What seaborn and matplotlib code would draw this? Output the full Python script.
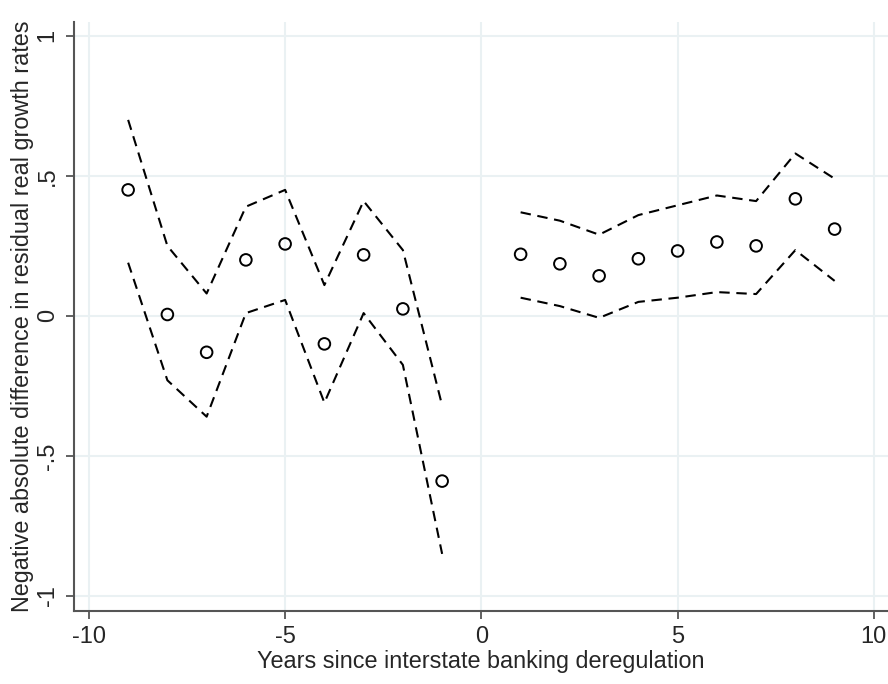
import numpy as np
import pandas as pd
import matplotlib.pyplot as plt
import seaborn as sns

# Values
years = [-9, -8, -7, -6, -5, -4, -3, -2, -1, 1, 2, 3, 4, 5, 6, 7, 8, 9]
estimate = [0.45, 0.005, -0.13, 0.20, 0.257, -0.10, 0.218, 0.025, -0.59,
            0.22, 0.186, 0.143, 0.204, 0.232, 0.264, 0.25, 0.418, 0.31]
upper = [0.70, 0.25, 0.08, 0.39, 0.45, 0.11, 0.41, 0.235, -0.32,
         0.37, 0.34, 0.29, 0.36, 0.395, 0.43, 0.41, 0.58, 0.49]
lower = [0.19, -0.23, -0.36, 0.01, 0.057, -0.31, 0.01, -0.175, -0.85,
         0.065, 0.035, -0.007, 0.05, 0.065, 0.085, 0.078, 0.235, 0.125]
xticks = [-10, -5, 0, 5, 10]
yticks = [-1, -0.5, 0, 0.5, 1]
ytick_labels = ['-1', '-.5', '0', '.5', '1']

df = pd.DataFrame({'year': years, 'est': estimate, 'hi': upper, 'lo': lower})
df['period'] = np.where(df['year'] < 0, 'pre', 'post')

sns.set_style('white')
plt.rcParams['font.family'] = ['Liberation Sans', 'DejaVu Sans']

fig = plt.figure(figsize=(8.88, 6.84), dpi=100)
ax = fig.add_axes([0.0833, 0.1067, 0.9167, 0.8613])

grid_c = '#eaf1f3'
for t in xticks:
    ax.axvline(t, color=grid_c, lw=1.5, zorder=0)
for t in yticks:
    ax.axhline(t, color=grid_c, lw=1.5, zorder=0)

# confidence bands, broken at year 0
for col in ['hi', 'lo']:
    sns.lineplot(data=df, x='year', y=col, units='period', estimator=None,
                 color='black', lw=1.5, dashes=False, ax=ax, zorder=2)
for line in ax.get_lines()[len(xticks) + len(yticks):]:
    line.set_dashes([5, 3.2])

sns.scatterplot(data=df, x='year', y='est', marker='o', s=70,
                facecolor='none', edgecolor='black', linewidth=1.4,
                ax=ax, zorder=3)

ax.set_xlim(-10.38, 10.36)
ax.set_ylim(-1.054, 1.05)
ax.set_xticks(xticks)
ax.set_xticklabels([str(t) for t in xticks])
ax.set_yticks(yticks)
ax.set_yticklabels(ytick_labels, rotation=90, va='center')

ax.tick_params(axis='both', direction='out', length=6, width=1.3,
               color='#555555', labelsize=17, pad=5, left=True, bottom=True)
for side in ['top', 'right']:
    ax.spines[side].set_visible(False)
for side in ['left', 'bottom']:
    ax.spines[side].set_color('#555555')
    ax.spines[side].set_linewidth(1.5)

ax.set_xlabel('Years since interstate banking deregulation', fontsize=16.8, labelpad=1)
ax.set_ylabel('Negative absolute difference in residual real growth rates', fontsize=16.8, labelpad=2)

fig.savefig('out.png', dpi=100)
